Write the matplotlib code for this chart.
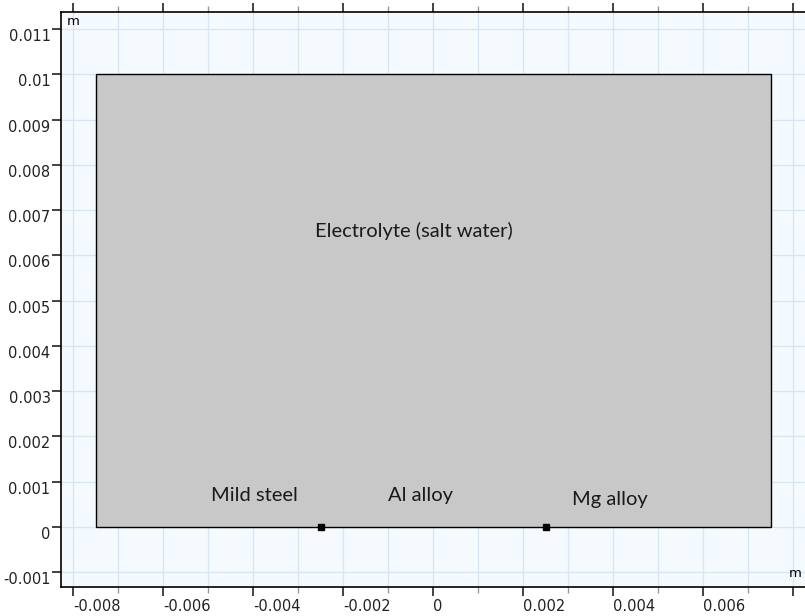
import matplotlib
matplotlib.use('Agg')
import matplotlib.pyplot as plt
from matplotlib.patches import Rectangle
from matplotlib.ticker import MultipleLocator, FuncFormatter

# geometry (m)
domain_x = [-0.0075, 0.0075]
domain_y = [0.0, 0.01]
point_x = [-0.0025, 0.0025]
point_y = [0.0, 0.0]
label_text = ['Electrolyte (salt water)', 'Mild steel', 'Al alloy', 'Mg alloy']
label_x = [-0.00044, -0.00398, -0.00029, 0.00392]
label_y = [0.00655, 0.00069, 0.00069, 0.00060]

plt.rcParams['axes.unicode_minus'] = False
plt.rcParams['font.family'] = 'DejaVu Sans'


def y_fmt(v, pos):
    return '%g' % round(v, 6)


def x_fmt(v, pos):
    # the last tick on the right carries no label (the unit 'm' sits there)
    if v > 0.007:
        return ''
    return '%g' % round(v, 6)


fig = plt.figure(figsize=(8.05, 6.16), dpi=100)
ax = fig.add_axes([61 / 805, 29 / 616, 744 / 805, 575 / 616])
ax.set_facecolor('#f5faff')

ax.add_patch(Rectangle((domain_x[0], domain_y[0]), domain_x[1] - domain_x[0],
                       domain_y[1] - domain_y[0], facecolor='#c8c8c8',
                       edgecolor='black', linewidth=1.0, zorder=2))
ax.plot(point_x, point_y, 's', color='black', markersize=4, zorder=3)

for t, x, y in zip(label_text, label_x, label_y):
    ax.text(x, y, t, ha='center', va='center', fontsize=14.5,
            family='Lato', color='#1a1a1a', zorder=4)

ax.set_xlim(-0.00827, 0.00826)
ax.set_ylim(-0.00133, 0.01138)

ax.xaxis.set_major_locator(MultipleLocator(0.002))
ax.xaxis.set_minor_locator(MultipleLocator(0.001))
ax.yaxis.set_major_locator(MultipleLocator(0.001))
ax.xaxis.set_major_formatter(FuncFormatter(x_fmt))
ax.yaxis.set_major_formatter(FuncFormatter(y_fmt))

ax.grid(True, which='both', color='#d8e6f3', linewidth=1.0, zorder=0)
ax.set_axisbelow(True)

ax.tick_params(axis='both', which='major', direction='out', length=6.5,
               width=1.2, labelsize=10.5, colors='#222222')
ax.tick_params(axis='x', which='major', pad=2)
ax.tick_params(axis='y', which='major', pad=1)
ax.tick_params(axis='x', which='minor', direction='out', length=4,
               width=1, color='#999999')
ax.tick_params(axis='x', which='both', top=True, labeltop=False)
ax.tick_params(axis='y', which='both', right=False)

# COMSOL style: x labels start at the tick, y labels hang below the tick
plt.setp(ax.get_xticklabels(), ha='left')
plt.setp(ax.get_yticklabels(), va='top')

ax.spines['right'].set_visible(False)
for s in ['left', 'top', 'bottom']:
    ax.spines[s].set_linewidth(1.2)

ax.text(0.008, 0.995, 'm', transform=ax.transAxes, ha='left', va='top', fontsize=9.5)
ax.text(0.995, 0.012, 'm', transform=ax.transAxes, ha='right', va='bottom', fontsize=9.5)

fig.savefig('out.png', dpi=100)
